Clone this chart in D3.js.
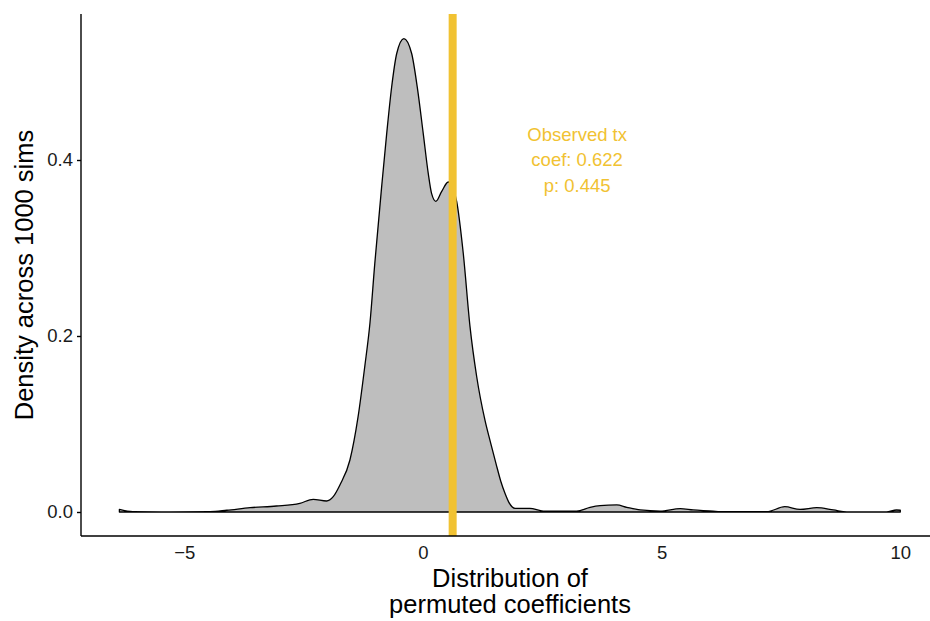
<!DOCTYPE html>
<html>
<head>
<meta charset="utf-8">
<script src="https://cdn.jsdelivr.net/npm/d3@7"></script>
<style>
  html, body { margin: 0; padding: 0; background: #ffffff; }
  svg { display: block; font-family: "Liberation Sans", Arial, Helvetica, sans-serif; }
</style>
</head>
<body>
<svg id="chart" width="930" height="621"></svg>
<script>
// ---- data ----
const coefX = [-6.36, -6.08, -5.3, -4.46, -4.11, -3.62, -3.07, -2.58, -2.30, -2.02, -1.88, -1.74, -1.53, -1.36, -1.22, -1.11, -1.01, -0.865, -0.76, -0.656, -0.55, -0.40, -0.237, -0.12, 0.006, 0.11, 0.18, 0.27, 0.39, 0.53, 0.61, 0.706, 0.844, 0.985, 1.125, 1.30, 1.42, 1.53, 1.63, 1.72, 1.80, 1.93, 2.24, 2.52, 3.22, 3.50, 3.71, 4.06, 4.27, 4.55, 4.97, 5.39, 5.66, 6.08, 6.22, 7.20, 7.58, 7.90, 8.25, 8.60, 8.88, 9.71, 9.92, 10.0];
const densityY = [0.003, 0.0004, 0.0, 0.0004, 0.002, 0.0049, 0.0068, 0.0099, 0.0144, 0.0125, 0.0174, 0.0307, 0.0591, 0.108, 0.165, 0.215, 0.282, 0.370, 0.430, 0.483, 0.521, 0.538, 0.521, 0.483, 0.430, 0.385, 0.362, 0.353, 0.364, 0.375, 0.370, 0.353, 0.294, 0.211, 0.154, 0.104, 0.078, 0.055, 0.035, 0.021, 0.011, 0.0042, 0.0042, 0.001, 0.001, 0.0053, 0.0072, 0.0080, 0.0053, 0.0023, 0.001, 0.0038, 0.0023, 0.001, 0.0003, 0.0003, 0.006, 0.003, 0.0049, 0.0023, 0.0, 0.0, 0.0023, 0.002];
const xTicks = [-5, 0, 5, 10];
const yTicks = [0.0, 0.2, 0.4];
const observedCoef = 0.622;
const annotationLines = ["Observed tx", "coef: 0.622", "p: 0.445"];
const annotationX = 3.23;
const xTitleLines = ["Distribution of", "permuted coefficients"];
const yTitle = "Density across 1000 sims";

// ---- layout ----
const panel = { left: 81, right: 930, top: 14, bottom: 536 };
const yellow = "#F1C232";

const svg = d3.select("#chart");

const x = d3.scaleLinear().domain([-5, 10]).range([184.3, 900.3]);
const y = d3.scaleLinear().domain([0, 0.4]).range([512, 160]);

const pts = coefX.map((v, i) => [v, densityY[i]]);

// density area (outline drawn all around, as in ggplot geom_density)
const area = d3.area()
  .x(d => x(d[0]))
  .y0(y(0))
  .y1(d => y(d[1]))
  .curve(d3.curveMonotoneX);

svg.append("path")
  .datum(pts)
  .attr("d", area)
  .attr("fill", "#BEBEBE")
  .attr("stroke", "#000")
  .attr("stroke-width", 1.3)
  .attr("stroke-linejoin", "round");

// observed coefficient line
svg.append("line")
  .attr("x1", x(observedCoef)).attr("x2", x(observedCoef))
  .attr("y1", panel.top).attr("y2", panel.bottom)
  .attr("stroke", yellow)
  .attr("stroke-width", 8);

// annotation
const ann = svg.append("text")
  .attr("text-anchor", "middle")
  .attr("fill", yellow)
  .attr("font-size", 18.5);
annotationLines.forEach((t, i) => {
  ann.append("tspan")
    .attr("x", x(annotationX))
    .attr("y", 140.5 + i * 25.7)
    .text(t);
});

// y axis
const yAxis = d3.axisLeft(y)
  .tickValues(yTicks)
  .tickFormat(d3.format(".1f"))
  .tickSize(4)
  .tickPadding(4);
const gy = svg.append("g")
  .attr("transform", `translate(${panel.left},0)`)
  .call(yAxis);
gy.select(".domain").remove();
gy.append("line")
  .attr("x1", 0).attr("x2", 0)
  .attr("y1", panel.top).attr("y2", panel.bottom)
  .attr("stroke", "#000").attr("stroke-width", 1.4);
gy.selectAll(".tick line").attr("stroke", "#000").attr("stroke-width", 1.4);
gy.selectAll(".tick text")
  .attr("fill", "#1a1a1a")
  .attr("font-size", 18.5)
  .attr("font-family", "Liberation Sans, Arial, sans-serif");

// x axis (no tick marks)
const xAxis = d3.axisBottom(x)
  .tickValues(xTicks)
  .tickFormat(d => d3.format("")(d).replace("-", "\u2212"))
  .tickSize(0)
  .tickPadding(10);
const gx = svg.append("g")
  .attr("transform", `translate(0,${panel.bottom})`)
  .call(xAxis);
gx.select(".domain").remove();
gx.append("line")
  .attr("x1", panel.left).attr("x2", panel.right)
  .attr("y1", 0).attr("y2", 0)
  .attr("stroke", "#000").attr("stroke-width", 1.4);
gx.selectAll(".tick text")
  .attr("fill", "#1a1a1a")
  .attr("font-size", 18.5)
  .attr("font-family", "Liberation Sans, Arial, sans-serif");

// axis titles
const xt = svg.append("text")
  .attr("text-anchor", "middle")
  .attr("font-size", 25.5)
  .attr("fill", "#000");
xTitleLines.forEach((t, i) => {
  xt.append("tspan").attr("x", 510).attr("y", 587 + i * 26).text(t);
});

svg.append("text")
  .attr("transform", `translate(33,${(panel.top + panel.bottom) / 2}) rotate(-90)`)
  .attr("text-anchor", "middle")
  .attr("font-size", 25.5)
  .attr("fill", "#000")
  .text(yTitle);
</script>
</body>
</html>
